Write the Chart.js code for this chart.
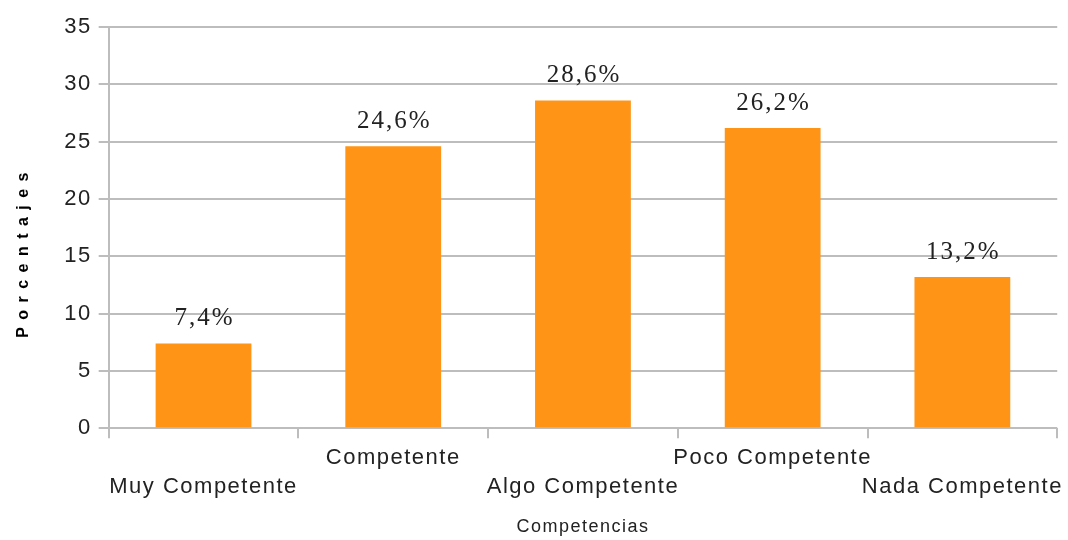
<!DOCTYPE html>
<html>
<head>
<meta charset="utf-8">
<script src="https://cdn.jsdelivr.net/npm/chart.js@4"></script>
<style>
  html, body { margin: 0; padding: 0; background: #fff; }
  #wrap { width: 1068px; height: 540px; }
</style>
</head>
<body>
<div id="wrap"><canvas id="chart" width="1068" height="540"></canvas></div>
<script>
// data
var categories = ['Muy Competente', 'Competente', 'Algo Competente', 'Poco Competente', 'Nada Competente'];
var values = [7.4, 24.6, 28.6, 26.2, 13.2];
var yTicks = [0, 5, 10, 15, 20, 25, 30, 35];

var gridColor = '#bdbdbd';
var textColor = '#222222';

// staggered labels: odd ones go on the second row
var staggered = categories.map(function (c, i) {
  return i % 2 === 0 ? ['', c] : [c, ''];
});

// the source text is drawn a little wide, so space the letters out
var spacing = {
  id: 'spacing',
  beforeLayout: function (chart) { chart.ctx.letterSpacing = '1.5px'; },
  beforeDraw: function (chart) { chart.ctx.letterSpacing = '1.5px'; }
};

var valueLabels = {
  id: 'valueLabels',
  afterDatasetsDraw: function (chart) {
    var ctx = chart.ctx;
    var meta = chart.getDatasetMeta(0);
    ctx.save();
    ctx.letterSpacing = '2px';
    ctx.font = '25px "Liberation Serif", "Times New Roman", serif';
    ctx.fillStyle = textColor;
    ctx.textAlign = 'center';
    ctx.textBaseline = 'alphabetic';
    meta.data.forEach(function (bar, i) {
      ctx.fillText(values[i].toFixed(1).replace('.', ',') + '%', bar.x + 1, bar.y - 18);
    });
    ctx.restore();
  }
};

var ctx = document.getElementById('chart').getContext('2d');
var chart = new Chart(ctx, {
  type: 'bar',
  data: {
    labels: staggered,
    datasets: [{
      data: values,
      backgroundColor: '#ff9416',
      borderWidth: 0,
      barPercentage: 0.505,
      categoryPercentage: 1
    }]
  },
  options: {
    responsive: false,
    animation: false,
    layout: { padding: { top: 27, right: 1, left: 14, bottom: 0 } },
    plugins: {
      legend: { display: false },
      tooltip: { enabled: false }
    },
    scales: {
      x: {
        offset: true,
        grid: {
          offset: true,
          drawOnChartArea: true,
          color: function (c) {
            return (c.index === categories.length) ? gridColor : 'rgba(0,0,0,0)';
          },
          tickColor: gridColor,
          tickLength: 10,
          lineWidth: 2
        },
        border: { display: false },
        ticks: {
          color: textColor,
          font: { family: '"Liberation Sans", Arial, sans-serif', size: 22, lineHeight: 1.32 },
          padding: 5,
          maxRotation: 0,
          autoSkip: false
        },
        title: {
          display: true,
          text: 'Competencias',
          color: textColor,
          font: { family: '"Liberation Sans", Arial, sans-serif', size: 18 },
          padding: { top: 10, bottom: 2 }
        }
      },
      y: {
        min: 0,
        max: 35,
        afterBuildTicks: function (axis) {
          axis.ticks = yTicks.map(function (v) { return { value: v }; });
        },
        grid: {
          color: gridColor,
          tickColor: gridColor,
          tickLength: 10,
          lineWidth: 2
        },
        border: { display: true, color: gridColor, width: 2 },
        ticks: {
          color: textColor,
          font: { family: '"Liberation Sans", Arial, sans-serif', size: 22 },
          padding: 7
        },
        title: {
          display: true,
          // trailing spaces push the title a little lower, as in the source
          text: 'P o r c e n t a j e s\u00a0\u00a0\u00a0\u00a0\u00a0\u00a0\u00a0\u00a0\u00a0',
          color: '#000',
          font: { family: '"Liberation Sans", Arial, sans-serif', size: 16, weight: 'bold' },
          padding: { top: 0, bottom: 24 }
        }
      }
    }
  },
  plugins: [spacing, valueLabels]
});
</script>
</body>
</html>
